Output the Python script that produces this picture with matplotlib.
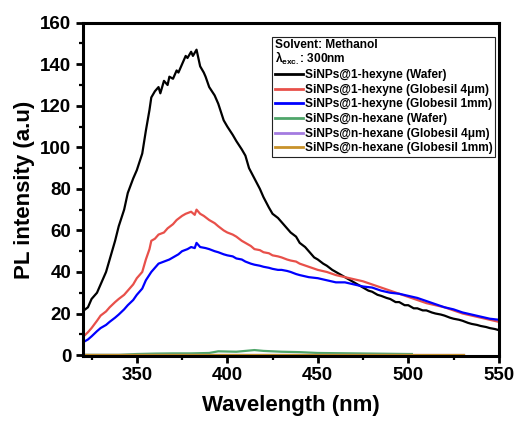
import matplotlib
matplotlib.use("Agg")
import matplotlib.pyplot as plt
from matplotlib.ticker import MultipleLocator

plt.rcParams['font.family'] = ['Liberation Sans', 'DejaVu Sans']
plt.rcParams['font.weight'] = 'bold'
plt.rcParams['mathtext.fontset'] = 'custom'
plt.rcParams['mathtext.rm'] = 'Liberation Sans:bold'
plt.rcParams['mathtext.it'] = 'Liberation Sans:bold'
plt.rcParams['mathtext.bf'] = 'Liberation Sans:bold'

wl_black = [320, 323, 325, 328, 330, 333, 335, 338, 340, 343, 345, 348, 350, 353, 355, 357, 358, 360,
            362, 363, 365, 367, 368, 370, 372, 373, 375, 377, 378, 380, 381, 383, 385, 387, 388,
            390, 393, 395, 398, 400, 403, 405, 408, 410, 412, 415, 418, 420, 423, 425, 428, 430,
            433, 435, 438, 440, 443, 445, 448, 450, 453, 455, 458, 460, 463, 465, 468, 470, 473,
            475, 478, 480, 483, 485, 488, 490, 493, 495, 498, 500, 503, 505, 508, 510, 513, 515,
            518, 520, 523, 525, 528, 530, 533, 535, 538, 540, 543, 545, 548, 550]
pl_black = [21, 23, 27, 30, 34, 40, 46, 55, 62, 70, 78, 85, 89, 97, 108, 118, 124, 127,
            129, 126, 132, 130, 134, 133, 137, 136, 140, 144, 143, 146, 144, 147, 139, 136, 134,
            129, 125, 121, 113, 110, 106, 103, 99, 96, 90, 85, 80, 76, 71, 68, 66, 64,
            61, 59, 57, 54, 52, 50, 47, 46, 44, 43, 41, 40, 38.5, 37.5, 36, 35, 33.5,
            32.5, 31, 30.5, 29, 28.5, 27.5, 27, 25.5, 25.5, 24, 24, 22.5, 22.5, 21.5, 21.5, 20.5, 20,
            19.5, 19, 18, 17.5, 17, 16.5, 15.5, 15, 14.5, 14, 13.5, 13, 12.5, 12]

wl_red = [320, 323, 325, 328, 330, 333, 335, 338, 340, 343, 345, 348, 350, 353, 355, 357, 358, 360,
          362, 365, 367, 370, 372, 375, 377, 380, 382, 383, 385, 387, 390, 393, 395, 398,
          400, 403, 405, 408, 410, 413, 415, 418, 420, 423, 425, 428, 430, 433, 435, 438, 440,
          445, 450, 455, 460, 465, 470, 475, 480, 485, 490, 495, 500, 505, 510, 515, 520,
          525, 530, 535, 540, 545, 550]
pl_red = [8.5, 11, 13, 16.5, 19, 21, 23, 25.5, 27, 29, 31, 34, 37, 40, 46, 51, 55, 56,
          58, 59, 61, 63, 65, 67, 68, 69, 67.5, 70, 68, 67, 65, 63.5, 62, 60,
          59, 58, 57, 55, 54, 52.5, 51, 50.5, 49.5, 49, 48, 47.5, 47, 46, 45.5, 45, 44,
          42.5, 41, 40, 38.5, 37.5, 36.5, 35.5, 34, 32.5, 31, 29.5, 28, 26.5, 25, 24, 23,
          21.5, 20, 19, 18, 17, 16]

wl_blue = [320, 323, 325, 328, 330, 333, 335, 338, 340, 343, 345, 348, 350, 353, 355, 358, 360,
           362, 365, 368, 370, 373, 375, 378, 380, 382, 383, 385, 388, 390, 393, 395, 398,
           400, 403, 405, 408, 410, 413, 415, 418, 420, 423, 425, 428, 430, 433, 435, 438, 440,
           445, 450, 455, 460, 465, 470, 475, 480, 485, 490, 495, 500, 505, 510, 515, 520,
           525, 530, 535, 540, 545, 550]
pl_blue = [6, 7.5, 9, 11.5, 13, 14.5, 16, 18, 19.5, 22, 24, 26.5, 29, 32, 36, 40, 42,
           44, 45, 46, 47, 48.5, 50, 51, 52, 51.5, 54, 52, 51.5, 51, 50, 49.5, 48.5,
           48, 47.5, 46.5, 46, 45, 44, 43.5, 43, 42.5, 42, 41.5, 41, 41, 40.5, 40, 39, 38.5,
           37.5, 37, 36, 35, 35, 34, 33, 32.5, 31, 30, 29.5, 28.5, 27.5, 26, 24.5, 23,
           22, 20.5, 19.5, 18.5, 17.5, 17]

wl_green = [320, 340, 350, 360, 370, 380, 390, 395, 400, 405, 410, 415, 420, 425, 430, 440, 450,
            460, 470, 480, 490, 500, 502]
pl_green = [0.1, 0.1, 0.5, 0.7, 0.8, 0.8, 1.0, 1.8, 1.7, 1.6, 2.0, 2.4, 2.0, 1.8, 1.6, 1.4, 1.0,
            0.9, 0.8, 0.7, 0.6, 0.5, 0.5]

wl_purple = [320, 400, 531]
pl_purple = [0.1, 0.1, 0.1]

wl_orange = [320, 400, 531]
pl_orange = [0.2, 0.2, 0.2]

labels = ["SiNPs@1-hexyne (Wafer)", "SiNPs@1-hexyne (Globesil 4\u03bcm)",
          "SiNPs@1-hexyne (Globesil 1mm)", "SiNPs@n-hexane (Wafer)",
          "SiNPs@n-hexane (Globesil 4\u03bcm)", "SiNPs@n-hexane (Globesil 1mm)"]
colors = ["#000000", "#e8504a", "#0000ff", "#4fa66a", "#a47be0", "#c8922a"]

fig = plt.figure(figsize=(5.19, 4.28), dpi=100)
ax = fig.add_axes([0.159, 0.168, 0.802, 0.779])

series = [(wl_black, pl_black), (wl_red, pl_red), (wl_blue, pl_blue),
          (wl_green, pl_green), (wl_purple, pl_purple), (wl_orange, pl_orange)]
for (x, y), lab, c in zip(series, labels, colors):
    ax.plot(x, y, color=c, lw=1.6, label=lab)

ax.set_xlim(320, 550)
ax.set_ylim(-0.5, 160)
ax.xaxis.set_major_locator(MultipleLocator(50))
ax.xaxis.set_minor_locator(MultipleLocator(25))
ax.yaxis.set_major_locator(MultipleLocator(20))
ax.yaxis.set_minor_locator(MultipleLocator(10))
ax.set_xticks([350, 400, 450, 500, 550])
for s in ax.spines.values():
    s.set_linewidth(2.2)
ax.tick_params(which='major', direction='out', length=5, width=2, labelsize=13.5, pad=3)
ax.tick_params(which='minor', direction='out', length=3, width=1.6)
ax.tick_params(top=False, right=False, which='both')
for t in ax.get_xticklabels() + ax.get_yticklabels():
    t.set_fontweight('bold')

ax.set_xlabel("Wavelength (nm)", fontsize=16, fontweight='bold', labelpad=8)
ax.set_ylabel("PL intensity (a.u)", fontsize=16, fontweight='bold', labelpad=4)

leg = ax.legend(loc='upper left', bbox_to_anchor=(0.456, 0.957), borderaxespad=0,
                title="Solvent: Methanol\n$\\lambda_{exc.}$: 300nm",
                alignment='left', fancybox=False, edgecolor='#222222', framealpha=1,
                prop={'size': 8.6, 'weight': 'bold'},
                title_fontproperties={'size': 8.6, 'weight': 'bold'},
                handlelength=2.4, handletextpad=0.15, labelspacing=0.22,
                borderpad=0.2, frameon=True)
leg.get_title().set_linespacing(0.85)
leg.get_frame().set_linewidth(0.8)
for l in leg.get_lines():
    l.set_linewidth(2)

fig.savefig("out.png", dpi=100)
